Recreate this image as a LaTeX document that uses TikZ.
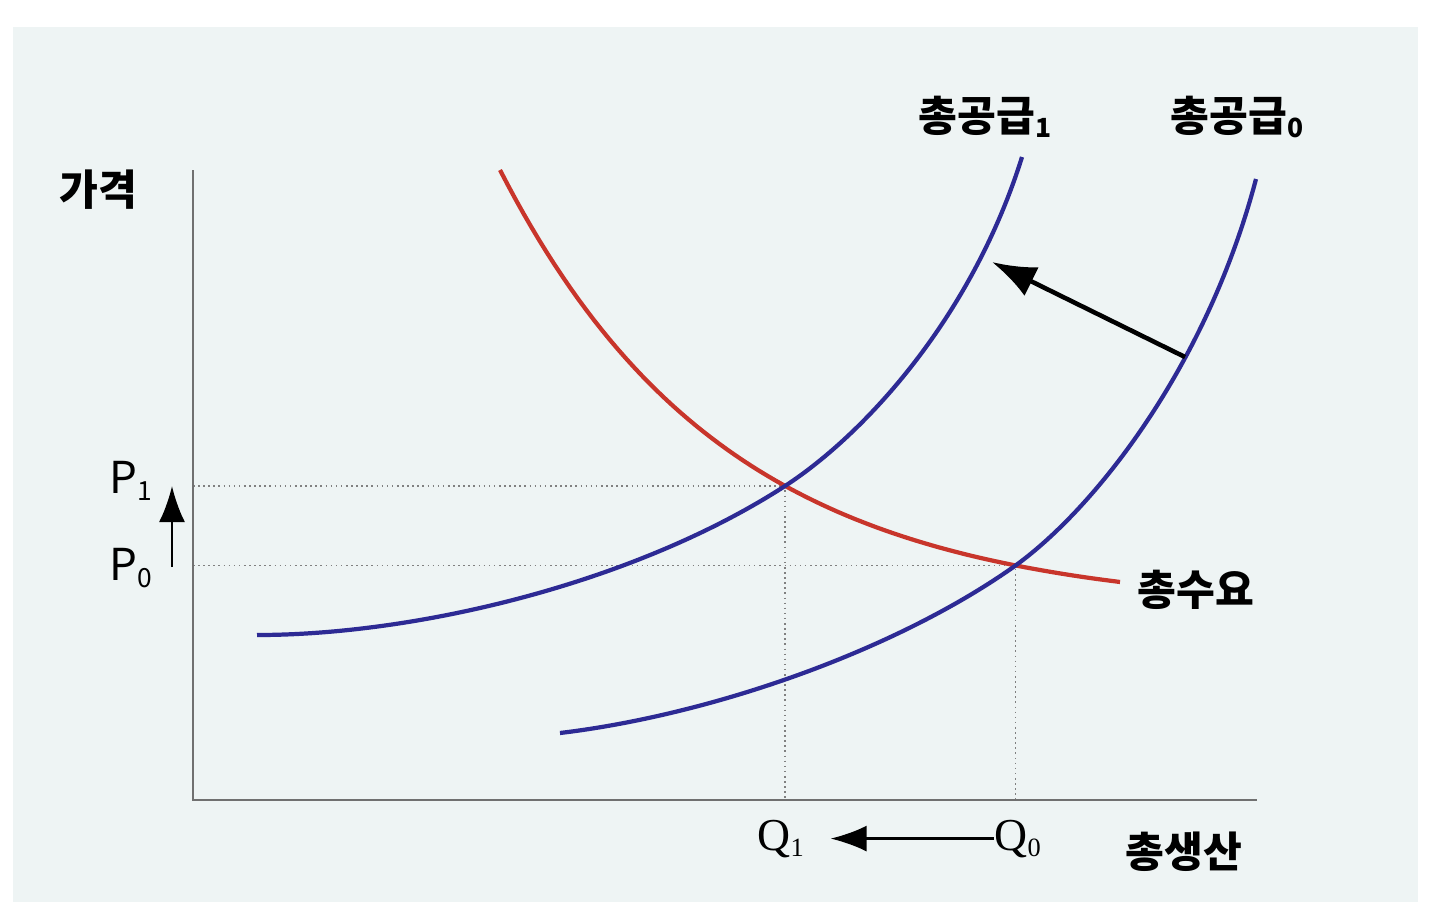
\documentclass[tikz,border=0pt]{standalone}
\usepackage{fontspec}
\setmainfont{Liberation Serif}
\newfontfamily\kr{Noto Sans CJK KR}
\usetikzlibrary{arrows.meta,intersections}
\definecolor{panel}{HTML}{EEF4F4}
\definecolor{asblue}{HTML}{2D2A94}
\definecolor{adred}{HTML}{C8352B}
\definecolor{axisgray}{HTML}{707070}
\newcommand{\lowidx}[1]{\raisebox{-0.3ex}{\fontsize{7.5}{8}\selectfont #1}}

\begin{document}
\begin{tikzpicture}[
    x=0.01cm, y=-0.01cm,
    axis/.style={draw=axisgray, line width=0.75pt},
    guide/.style={draw=gray, line width=0.45pt, densely dotted},
    supply/.style={draw=asblue, line width=1.2pt},
    demand/.style={draw=adred, line width=1.2pt},
    title/.style={font=\kr\bfseries\fontsize{12}{14}\selectfont, inner sep=0pt},
    price/.style={font=\kr\fontsize{12.5}{14}\selectfont, inner sep=0pt},
    qty/.style={font=\fontsize{13}{15}\selectfont, inner sep=0pt},
    shiftarrow/.style={-{Latex[length=0.44cm,width=0.32cm]}, line width=1.3pt},
    move/.style={-{Latex[length=0.36cm,width=0.26cm]}, line width=0.7pt}
  ]
  \useasboundingbox (0,0) rectangle (1454,902);
  \fill[panel] (13,27) rectangle (1418,902);

  \coordinate (o) at (193,800);

  % curves
  \path[name path=dem] plot[domain=500:1120, samples=80] (\x, {610-440*exp(-0.004443*(\x-500))});
  \path[name path=sone] (257,635) .. controls (417,635) and (635,583) .. (785,486)
      .. controls (865,434) and (972,317) .. (1022,157);
  \path[name path=szero] (560,733) .. controls (710,715) and (892,652) .. (1012,568)
      .. controls (1092,512) and (1206,369) .. (1256,179);
  \path[name intersections={of=dem and sone, by=e1}];
  \path[name intersections={of=dem and szero, by=e0}];

  \draw[guide] (o |- e1) -- (e1) -- (e1 |- o);
  \draw[guide] (o |- e0) -- (e0) -- (e0 |- o);
  \draw[axis] (193,170) -- (o) -- (1257,800);

  \draw[demand] plot[domain=500:1120, samples=80] (\x, {610-440*exp(-0.004443*(\x-500))});
  \draw[supply] (257,635) .. controls (417,635) and (635,583) .. (785,486)
      .. controls (865,434) and (972,317) .. (1022,157);
  \draw[supply] (560,733) .. controls (710,715) and (892,652) .. (1012,568)
      .. controls (1092,512) and (1206,369) .. (1256,179);

  \node[title] (price) at (98,190) {가격};
  \node[title, anchor=base west] (as1) at (918,131) {총공급\lowidx{1}};
  \node[title, anchor=base west] (as0) at (1170,131) {총공급\lowidx{0}};
  \node[title] (ad) at (1196,590) {총수요};
  \node[title] (output) at (1184,852) {총생산};

  \node[price, anchor=base west] (p1) at (109,493) {P\lowidx{1}};
  \node[price, anchor=base west] (p0) at (109,580) {P\lowidx{0}};
  \node[qty, anchor=base west] (q1) at (757,850) {Q\lowidx{1}};
  \node[qty, anchor=base west] (q0) at (994,850) {Q\lowidx{0}};

  \coordinate (pfrom) at (172,567);
  \coordinate (pto) at (172,486);
  \coordinate (s0pt) at (1185,357);
  \coordinate (s1pt) at (992,262);

  \draw[move] (pfrom) -- (pto);
  \draw[move, shorten >=0.26cm] (q0.west) -- (q1.east |- q0.west);
  \draw[shiftarrow] (s0pt) -- (s1pt);
\end{tikzpicture}
\end{document}
